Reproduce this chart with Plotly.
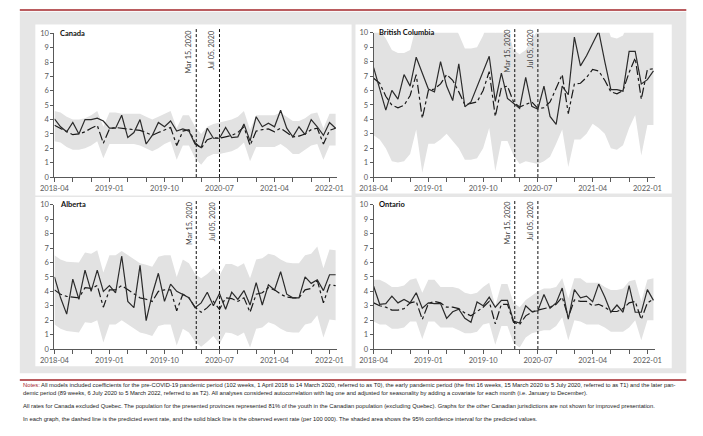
import plotly.graph_objects as go
import pandas as pd

# ---------------- data ----------------
months = [p.strftime("%Y-%m") for p in pd.period_range("2018-04", periods=47, freq="M")]
tick_labels = ["2018-04", "2019-01", "2019-10", "2020-07", "2021-04", "2022-01"]
event_pos = [23.2, 27.0]
event_labels = ["Mar 15, 2020", "Jul 05, 2020"]
regions = ["Canada", "British Columbia", "Alberta", "Ontario"]

canada_obs = [4.05, 3.5, 3.15, 3.8, 3.0, 4.0, 4.0, 4.1, 3.9, 3.4, 3.4, 4.3, 2.75, 3.1, 4.0, 2.3, 2.9, 3.8, 3.5, 3.9,
              3.2, 3.35, 3.2, 2.3, 2.05, 3.4, 2.7, 2.7, 3.45, 2.75, 2.8, 3.7, 2.5, 4.2, 3.5, 3.75, 3.5, 4.65, 3.4, 2.8,
              3.5, 2.95, 4.0, 3.5, 2.9, 3.8, 3.4]
canada_pred = [3.6, 3.4, 3.2, 2.95, 3.0, 3.15, 3.4, 3.6, 2.35, 3.35, 3.45, 3.4, 3.35, 3.3, 3.25, 3.1, 2.9, 3.1, 3.3, 3.45,
               2.2, 3.2, 3.3, 2.4, 2.0, 2.6, 2.75, 2.7, 2.8, 2.9, 3.1, 3.5, 2.2, 3.2, 3.3, 3.35, 3.15, 3.4, 3.1, 2.8,
               2.85, 3.0, 3.3, 3.4, 2.3, 3.25, 3.4]
canada_upper = [4.6, 4.5, 4.2, 4.0, 4.0, 4.1, 4.3, 4.6, 3.5, 4.5, 4.5, 4.4, 4.4, 4.4, 4.4, 4.2, 4.0, 4.2, 4.4, 4.6,
                3.4, 4.3, 4.3, 3.5, 3.0, 3.5, 3.7, 3.8, 3.9, 4.0, 4.2, 4.6, 3.3, 4.3, 4.3, 4.3, 4.3, 4.5, 4.2, 3.9,
                3.9, 4.1, 4.4, 4.5, 3.4, 4.4, 4.4]
canada_lower = [2.5, 2.4, 2.1, 1.9, 1.9, 2.0, 2.2, 2.5, 1.3, 2.3, 2.3, 2.3, 2.3, 2.3, 2.2, 2.0, 1.8, 2.0, 2.3, 2.5,
                1.2, 2.2, 2.2, 1.3, 0.85, 1.4, 1.6, 1.6, 1.7, 1.8, 2.0, 2.4, 1.1, 2.1, 2.1, 2.1, 2.1, 2.3, 2.0, 1.6,
                1.6, 1.9, 2.2, 2.3, 1.2, 2.2, 2.2]

bc_obs = [7.58, 6.1, 4.64, 6.0, 5.4, 7.1, 6.3, 8.3, 7.2, 6.1, 5.9, 8.0, 6.3, 5.3, 7.85, 4.87, 5.2, 6.3, 7.4, 8.37,
          5.25, 7.2, 5.45, 5.1, 4.75, 6.9, 4.9, 4.7, 6.3, 4.2, 3.65, 6.3, 5.7, 9.7, 7.7, 8.4, 9.2, 10.1, 8.0, 6.05,
          6.05, 5.95, 8.7, 8.7, 6.45, 6.75, 7.35]
bc_pred = [6.85, 6.5, 5.6, 4.98, 4.8, 4.97, 5.65, 7.1, 4.07, 6.0, 6.1, 6.45, 7.1, 6.7, 5.9, 5.0, 5.1, 5.2, 6.0, 7.3,
           4.2, 6.2, 6.3, 5.2, 4.85, 5.0, 5.2, 4.75, 4.8, 5.2, 6.2, 7.1, 4.4, 6.45, 6.5, 6.9, 7.45, 7.35, 6.7, 5.9,
           5.77, 6.0, 7.25, 8.25, 5.4, 7.45, 7.5]
bc_upper = [10.5, 10.2, 9.6, 8.8, 8.6, 8.6, 8.8, 10.5, 10.2, 10.5, 10.5, 10.8, 11.0, 10.6, 9.9, 8.9, 8.9, 9.0, 9.8, 11.0,
            10.0, 10.5, 10.4, 8.8, 8.5, 8.8, 9.5, 10.2, 10.2, 10.4, 11.0, 11.5, 10.0, 11.0, 11.0, 11.5, 12.0, 12.0, 11.0, 9.7,
            9.6, 9.8, 11.0, 12.0, 10.0, 11.5, 11.5]
bc_lower = [2.9, 2.6, 2.0, 1.1, 1.0, 1.1, 1.6, 3.3, 0.3, 2.3, 2.3, 2.6, 3.0, 2.5, 2.0, 1.2, 1.2, 1.3, 2.0, 3.4,
            0.4, 2.5, 2.5, 1.5, 0.9, 1.1, 1.0, 0.9, 1.1, 1.4, 2.3, 3.3, 0.7, 2.6, 2.6, 3.0, 3.7, 3.4, 3.0, 2.0,
            1.9, 2.2, 3.4, 4.3, 1.5, 3.6, 3.6]

ab_obs = [5.0, 3.55, 2.42, 4.85, 3.45, 5.47, 4.0, 5.47, 4.0, 4.4, 3.9, 6.45, 3.3, 2.87, 5.8, 1.97, 3.8, 5.25, 3.3, 4.5,
          4.0, 3.8, 3.55, 2.87, 3.2, 3.94, 3.0, 3.85, 2.76, 3.94, 3.44, 4.05, 3.05, 4.6, 3.05, 4.45, 4.1, 5.36, 3.8, 3.55,
          3.55, 5.0, 4.55, 4.8, 4.05, 5.15, 5.15]
ab_pred = [4.1, 3.8, 3.65, 3.6, 3.55, 4.25, 4.2, 4.4, 2.9, 4.1, 4.1, 4.4, 4.1, 3.8, 3.55, 3.45, 3.3, 4.0, 4.1, 4.1,
           2.65, 3.8, 3.55, 2.9, 2.55, 2.87, 3.3, 2.75, 3.55, 3.5, 3.3, 3.55, 2.55, 3.8, 3.9, 4.25, 4.1, 3.8, 3.6, 3.55,
           3.55, 4.1, 4.2, 4.75, 3.2, 4.45, 4.4]
ab_upper = [6.5, 6.2, 6.05, 6.0, 6.0, 6.7, 6.6, 6.85, 5.3, 6.5, 6.5, 6.8, 6.5, 6.2, 5.95, 5.85, 5.7, 6.4, 6.5, 6.5,
            5.0, 6.2, 5.95, 5.2, 4.9, 5.2, 5.6, 5.1, 5.9, 5.9, 5.7, 5.95, 4.9, 6.2, 6.3, 6.6, 6.5, 6.2, 6.0, 5.95,
            5.95, 6.5, 6.6, 7.1, 5.6, 6.9, 6.85]
ab_lower = [1.7, 1.4, 1.25, 1.2, 1.15, 1.85, 1.8, 2.0, 0.45, 1.7, 1.7, 2.0, 1.7, 1.4, 1.15, 1.05, 0.9, 1.6, 1.7, 1.7,
            0.25, 1.4, 1.15, 0.5, 0.15, 0.5, 0.9, 0.35, 1.15, 1.1, 0.9, 1.15, 0.1, 1.4, 1.5, 1.85, 1.7, 1.4, 1.2, 1.15,
            1.15, 1.7, 1.8, 2.35, 0.8, 2.05, 2.0]

on_obs = [4.35, 3.1, 3.15, 3.67, 3.2, 3.44, 3.2, 3.9, 2.83, 3.2, 3.15, 3.15, 2.13, 2.58, 2.76, 2.13, 1.86, 3.26, 3.0, 3.6,
          2.9, 3.37, 3.37, 1.93, 1.8, 3.0, 2.6, 2.65, 3.78, 2.83, 3.2, 4.23, 2.08, 4.12, 3.55, 3.67, 3.28, 4.5, 3.6, 2.55,
          3.05, 2.55, 4.4, 2.55, 2.55, 4.12, 3.37]
on_pred = [3.2, 3.0, 2.9, 2.7, 2.7, 2.8, 3.2, 3.3, 2.05, 3.15, 3.3, 3.2, 2.9, 2.9, 2.8, 2.5, 2.3, 2.6, 2.9, 3.3,
           1.75, 3.1, 3.1, 1.85, 1.7, 2.3, 2.55, 2.7, 2.8, 2.9, 3.1, 3.6, 2.2, 3.4, 3.3, 3.3, 3.0, 3.1, 2.9, 2.6,
           2.6, 2.8, 3.2, 3.3, 2.05, 3.2, 3.45]
on_upper = [4.8, 4.8, 4.6, 4.3, 4.3, 4.4, 4.8, 4.9, 3.9, 4.8, 4.8, 4.3, 4.3, 4.3, 4.2, 3.9, 3.8, 3.9, 4.3, 4.6,
            3.0, 4.5, 4.5, 3.2, 2.9, 3.4, 3.7, 4.0, 4.2, 4.2, 4.3, 4.9, 3.5, 4.9, 4.9, 4.6, 4.6, 4.6, 4.3, 4.1,
            4.1, 4.2, 4.7, 4.8, 3.3, 4.8, 4.9]
on_lower = [1.9, 1.7, 1.7, 1.4, 1.4, 1.5, 1.9, 1.9, 0.7, 1.9, 1.9, 1.5, 1.5, 1.5, 1.3, 1.1, 1.1, 1.2, 1.7, 1.8,
            0.3, 1.6, 1.6, 0.4, 0.1, 0.8, 1.1, 1.2, 1.3, 1.3, 1.6, 2.2, 0.6, 2.0, 1.9, 1.7, 1.7, 1.7, 1.5, 1.2,
            1.2, 1.2, 1.5, 2.0, 0.6, 2.0, 2.0]

series = {
    "Canada": (canada_obs, canada_pred, canada_upper, canada_lower),
    "British Columbia": (bc_obs, bc_pred, bc_upper, bc_lower),
    "Alberta": (ab_obs, ab_pred, ab_upper, ab_lower),
    "Ontario": (on_obs, on_pred, on_upper, on_lower),
}

notes = [
    "<span style='color:#a3262a'>Notes:</span> All models included coefficients for the pre-COVID-19 pandemic period (102 weeks, 1 April 2018 to 14 March 2020, referred to as T0), the early pandemic period (the first 16 weeks, 15 March 2020 to 5 July 2020, referred to as T1) and the later pan-",
    "demic period (89 weeks, 6 July 2020 to 5 March 2022, referred to as T2). All analyses considered autocorrelation with lag one and adjusted for seasonality by adding a covariate for each month (i.e. January to December).",
    "All rates for Canada excluded Quebec. The population for the presented provinces represented 81% of the youth in the Canadian population (excluding Quebec). Graphs for the other Canadian jurisdictions are not shown for improved presentation.",
    "In each graph, the dashed line is the predicted event rate, and the solid black line is the observed event rate (per 100 000). The shaded area shows the 95% confidence interval for the predicted values.",
]

# ---------------- layout geometry (pixels) ----------------
W, H = 703, 436
def px(x): return x / W
def py(y): return 1 - y / H

geo = {
    "Canada": dict(x0=41.7, x1=332.8, yt=30.0, yb=176.7, box=(22, 21, 348, 195.5), tx=45, ty=30),
    "British Columbia": dict(x0=370.7, x1=660.4, yt=29.3, yb=176.7, box=(352, 21, 678, 193.5), tx=374, ty=29.5),
    "Alberta": dict(x0=41.7, x1=332.8, yt=205.0, yb=352.3, box=(22, 197, 348, 370), tx=45, ty=205),
    "Ontario": dict(x0=370.7, x1=660.4, yt=205.0, yb=352.3, box=(352, 197, 678, 372), tx=374, ty=205),
}
note_y = [389.5, 397.5, 410.5, 423.5]

TICK_FONT = dict(family="Lato, Open Sans, sans-serif", size=7.5, color="#595959")
NOTE_FONT = dict(family="Liberation Sans Narrow, Liberation Sans, sans-serif", size=5.8, color="#1a1a1a")

fig = go.Figure()
shapes = [
    dict(type="rect", xref="paper", yref="paper", x0=px(6), x1=px(693), y0=py(377), y1=py(8),
         fillcolor="#e6e6e6", line=dict(width=0), layer="below"),
    dict(type="line", xref="paper", yref="paper", x0=px(6), x1=px(693), y0=py(6), y1=py(6),
         line=dict(color="#a3262a", width=1.5)),
    dict(type="line", xref="paper", yref="paper", x0=px(6), x1=px(693), y0=py(384), y1=py(384),
         line=dict(color="#a3262a", width=1.5)),
]
annotations = []
layout_axes = {}

for i, name in enumerate(regions):
    s = "" if i == 0 else str(i + 1)
    g = geo[name]
    obs, pred, upper, lower = series[name]
    bx0, by0, bx1, by1 = g["box"]
    shapes.append(dict(type="rect", xref="paper", yref="paper", x0=px(bx0), x1=px(bx1), y0=py(by1), y1=py(by0),
                       fillcolor="white", line=dict(width=0), layer="below"))
    fig.add_trace(go.Scatter(x=months, y=lower, xaxis="x" + s, yaxis="y" + s, mode="lines",
                             line=dict(width=0, color="#e0e0e0"), hoverinfo="skip", showlegend=False))
    fig.add_trace(go.Scatter(x=months, y=upper, xaxis="x" + s, yaxis="y" + s, mode="lines", fill="tonexty",
                             fillcolor="#e2e2e2", line=dict(width=0, color="#e0e0e0"), hoverinfo="skip",
                             showlegend=False))
    fig.add_trace(go.Scatter(x=months, y=pred, xaxis="x" + s, yaxis="y" + s, mode="lines",
                             line=dict(color="#1a1a1a", width=1.2, dash="dashdot"), showlegend=False))
    fig.add_trace(go.Scatter(x=months, y=obs, xaxis="x" + s, yaxis="y" + s, mode="lines",
                             line=dict(color="#2b2b2b", width=1.2), showlegend=False))

    layout_axes["xaxis" + s] = dict(
        type="category", domain=[px(g["x0"]), px(g["x1"])], anchor="y" + s, range=[0, 46.2],
        showline=True, linecolor="#595959", linewidth=1, ticks="outside", ticklen=3.5, tickcolor="#595959",
        tickvals=months[::3], ticktext=[m if m in tick_labels else "" for m in months[::3]],
        tickfont=TICK_FONT, showgrid=False, zeroline=False, fixedrange=True)
    layout_axes["yaxis" + s] = dict(
        domain=[py(g["yb"]), py(g["yt"])], anchor="x" + s, range=[0, 10], tickvals=list(range(11)),
        showline=True, linecolor="#595959", linewidth=1, ticks="outside", ticklen=3, tickcolor="#595959",
        tickfont=TICK_FONT, showgrid=False, zeroline=False, fixedrange=True)

    for pos, lab in zip(event_pos, event_labels):
        shapes.append(dict(type="line", xref="x" + s, yref="y" + s + " domain", x0=pos, x1=pos, y0=0, y1=1.035,
                           line=dict(color="#111111", width=1, dash="3px,2px")))
        annotations.append(dict(xref="x" + s, yref="y" + s + " domain", x=pos, y=1.035, text=lab,
                                textangle=-90, xanchor="right", yanchor="top", xshift=-1, showarrow=False,
                                font=dict(family="Lato, Open Sans, sans-serif", size=7.2, color="#404040")))
    annotations.append(dict(xref="paper", yref="paper", x=px(g["tx"]), y=py(g["ty"]), text="<b>" + name + "</b>",
                            xanchor="left", yanchor="middle", showarrow=False,
                            font=dict(family="Lato, Open Sans, sans-serif", size=7.5, color="#111111")))

for txt, yy in zip(notes, note_y):
    annotations.append(dict(xref="paper", yref="paper", x=px(7), y=py(yy), text=txt, xanchor="left",
                            yanchor="middle", showarrow=False, align="left", font=NOTE_FONT))

fig.update_layout(width=W, height=H, margin=dict(l=0, r=0, t=0, b=0), paper_bgcolor="white",
                  plot_bgcolor="rgba(0,0,0,0)", showlegend=False, shapes=shapes, annotations=annotations,
                  hovermode=False, **layout_axes)
fig.write_html("out.html", config={"displayModeBar": False, "staticPlot": True},
               post_script="document.body.style.margin='0px';document.body.style.overflow='hidden';")
